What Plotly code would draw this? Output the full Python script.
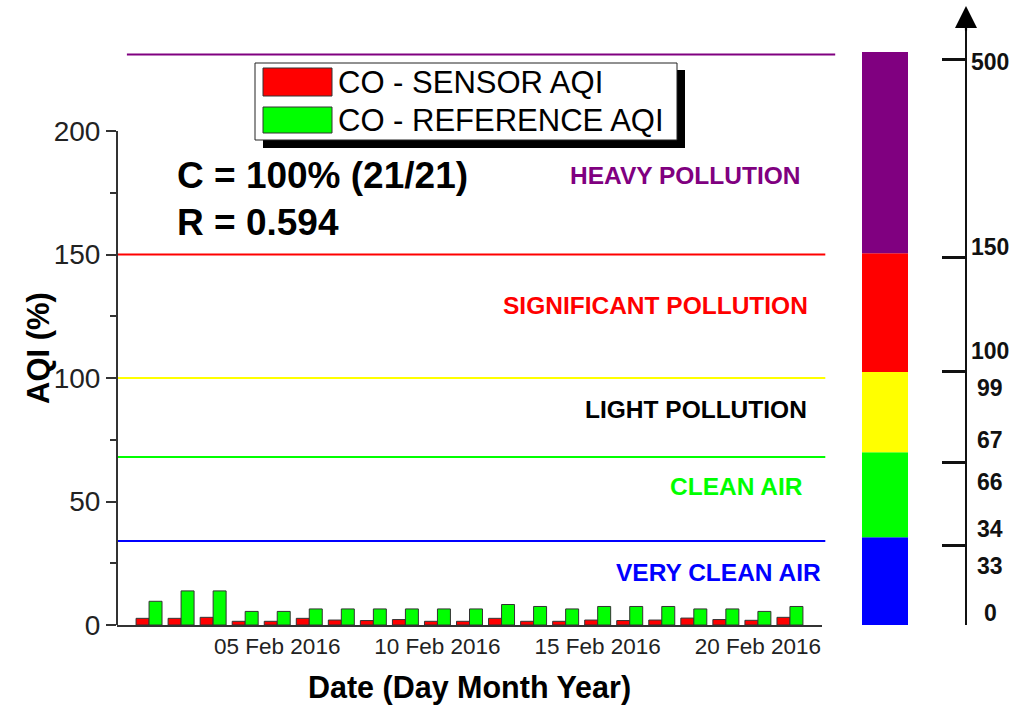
import plotly.graph_objects as go

# Daily CO air-quality index, 1-21 Feb 2016
dates = ["2016-02-01", "2016-02-02", "2016-02-03", "2016-02-04", "2016-02-05",
         "2016-02-06", "2016-02-07", "2016-02-08", "2016-02-09", "2016-02-10",
         "2016-02-11", "2016-02-12", "2016-02-13", "2016-02-14", "2016-02-15",
         "2016-02-16", "2016-02-17", "2016-02-18", "2016-02-19", "2016-02-20",
         "2016-02-21"]
sensor_aqi = [2.7, 2.7, 3.1, 1.5, 1.5, 2.7, 2.0, 1.8, 2.2, 1.5, 1.5,
              2.7, 1.5, 1.5, 2.0, 1.8, 2.0, 2.8, 2.2, 1.9, 3.1]
reference_aqi = [9.6, 13.8, 13.8, 5.5, 5.5, 6.5, 6.5, 6.5, 6.5, 6.5, 6.5,
                 8.3, 7.5, 6.5, 7.5, 7.5, 7.5, 6.5, 6.5, 5.5, 7.5]

x_ticks = ["2016-02-05", "2016-02-10", "2016-02-15", "2016-02-20"]
y_ticks = [0, 50, 100, 150, 200]
y_minor = [25, 75, 125, 175]

# Pollution class thresholds drawn as horizontal lines
threshold_values = [34, 68, 100, 150, 231]
threshold_colors = ["#0000ff", "#00ff00", "#ffff00", "#ff0000", "#800080"]

# Class names written inside the bands
class_names = ["VERY CLEAN AIR", "CLEAN AIR", "LIGHT POLLUTION",
               "SIGNIFICANT POLLUTION", "HEAVY POLLUTION"]
class_colors = ["#0000ff", "#00ff00", "#000000", "#ff0000", "#800080"]
class_label_y = [21.1, 55.9, 87.1, 129.4, 182.0]
class_label_x = [0.668, 0.688, 0.643, 0.598, 0.632]

# Colour scale on the right: band bottoms and tops
band_bottoms = [0, 35.5, 70, 102.5, 150.5]
band_tops = [35.5, 70, 102.5, 150.5, 232]
band_colors = ["#0000ff", "#00ff00", "#ffff00", "#ff0000", "#800080"]

# Index scale beside the colour bar
scale_ticks = [0, 32, 66, 102.5, 149, 229]
scale_labels = ["0", "33", "34", "66", "67", "99", "100", "150", "500"]
scale_label_y = [5, 24, 39, 58, 75, 96, 111, 153, 228]

FONT = "Liberation Sans, Arial, sans-serif"
Y_MAX = 245

fig = go.Figure()

fig.add_trace(go.Bar(
    x=dates, y=sensor_aqi, name="CO - SENSOR AQI",
    marker=dict(color="#ff0000", line=dict(color="#333333", width=1)),
    showlegend=False,
))
fig.add_trace(go.Bar(
    x=dates, y=reference_aqi, name="CO - REFERENCE AQI",
    marker=dict(color="#00ff00", line=dict(color="#333333", width=1)),
    showlegend=False,
))

# Colour bar as stacked blocks on its own x axis
fig.add_trace(go.Bar(
    x=[0.5] * len(band_bottoms),
    y=[t - b for t, b in zip(band_tops, band_bottoms)],
    base=band_bottoms,
    width=1,
    marker=dict(color=band_colors, line=dict(width=0)),
    xaxis="x2", yaxis="y",
    showlegend=False, hoverinfo="skip",
))

# Empty trace so the right-hand scale axis is drawn
fig.add_trace(go.Scatter(x=[None], y=[None], xaxis="x", yaxis="y3",
                         showlegend=False, hoverinfo="skip"))

shapes = []
for val, col in zip(threshold_values, threshold_colors):
    x0, x1 = (0.011, 0.798) if val > 200 else (0.0, 0.787)
    shapes.append(dict(type="line", xref="paper", yref="y",
                       x0=x0, x1=x1, y0=val, y1=val,
                       line=dict(color=col, width=2), layer="below"))

# Left axis line only up to the last labelled tick
shapes.append(dict(type="line", xref="paper", yref="y", x0=0, x1=0,
                   y0=0, y1=200, line=dict(color="#333333", width=2)))


def px_x(p):
    return (p - 117) / 900


def px_y(p):
    return (625 - p) / 605


# Legend box with drop shadow and swatches
shapes.append(dict(type="rect", xref="paper", yref="paper",
                   x0=px_x(263), x1=px_x(685), y0=px_y(148), y1=px_y(70),
                   fillcolor="#000000", line=dict(width=0)))
shapes.append(dict(type="rect", xref="paper", yref="paper",
                   x0=px_x(255), x1=px_x(677), y0=px_y(140), y1=px_y(63),
                   fillcolor="#ffffff", line=dict(color="#222222", width=1)))
shapes.append(dict(type="rect", xref="paper", yref="paper",
                   x0=px_x(263), x1=px_x(332), y0=px_y(96), y1=px_y(68),
                   fillcolor="#ff0000", line=dict(color="#333333", width=1)))
shapes.append(dict(type="rect", xref="paper", yref="paper",
                   x0=px_x(263), x1=px_x(332), y0=px_y(133), y1=px_y(107),
                   fillcolor="#00ff00", line=dict(color="#333333", width=1)))

annotations = []
annotations.append(dict(xref="paper", yref="paper", x=px_x(336), y=px_y(82),
                        text="CO - SENSOR AQI", showarrow=False,
                        xanchor="left", yanchor="middle",
                        font=dict(family=FONT, size=31, color="#000000")))
annotations.append(dict(xref="paper", yref="paper", x=px_x(336), y=px_y(120),
                        text="CO - REFERENCE AQI", showarrow=False,
                        xanchor="left", yanchor="middle",
                        font=dict(family=FONT, size=31, color="#000000")))

annotations.append(dict(xref="paper", yref="paper", x=px_x(175), y=px_y(175),
                        text="<b>C = 100% (21/21)</b>", showarrow=False,
                        xanchor="left", yanchor="middle",
                        font=dict(family=FONT, size=37, color="#000000")))
annotations.append(dict(xref="paper", yref="paper", x=px_x(175), y=px_y(223),
                        text="<b>R = 0.594</b>", showarrow=False,
                        xanchor="left", yanchor="middle",
                        font=dict(family=FONT, size=37, color="#000000")))

for name, col, yv, xv in zip(class_names, class_colors, class_label_y, class_label_x):
    annotations.append(dict(xref="paper", yref="y", x=xv, y=yv,
                            text=f"<b>{name}</b>", showarrow=False,
                            xanchor="center", yanchor="middle",
                            font=dict(family=FONT, size=24.5, color=col)))

for lab, yv in zip(scale_labels, scale_label_y):
    annotations.append(dict(xref="paper", yref="y", x=px_x(990), y=yv,
                            text=f"<b>{lab}</b>", showarrow=False,
                            xanchor="center", yanchor="middle",
                            font=dict(family=FONT, size=23, color="#111111")))

# Y axis title
annotations.append(dict(xref="paper", yref="paper", x=px_x(38), y=px_y(348),
                        text="<b>AQI (%)</b>", showarrow=False, textangle=-90,
                        xanchor="center", yanchor="middle",
                        font=dict(family=FONT, size=31, color="#000000")))

# Arrow head on top of the scale axis
annotations.append(dict(xref="paper", yref="paper", x=px_x(966), y=px_y(6),
                        ax=0, ay=26, text="", showarrow=True,
                        arrowhead=2, arrowsize=2, arrowwidth=2.2,
                        arrowcolor="#000000"))

fig.update_layout(
    width=1027, height=705,
    margin=dict(l=117, r=10, t=20, b=80, autoexpand=False),
    paper_bgcolor="#ffffff", plot_bgcolor="#ffffff",
    barmode="group", bargap=0.19, bargroupgap=0,
    font=dict(family=FONT, color="#000000"),
    shapes=shapes, annotations=annotations,
    xaxis=dict(
        domain=[0, 705 / 900],
        type="date",
        range=["2016-01-31", "2016-02-22"],
        tickvals=x_ticks, tickformat="%d %b %Y",
        ticks="", showgrid=False, zeroline=False,
        showline=True, linecolor="#333333", linewidth=2,
        tickfont=dict(family=FONT, size=22.5, color="#222222"),
        title=dict(text="<b>Date (Day Month Year)</b>",
                   font=dict(family=FONT, size=30.5, color="#000000"),
                   standoff=20),
    ),
    xaxis2=dict(
        domain=[px_x(862), px_x(908)], range=[0, 1],
        anchor="y", visible=False, fixedrange=True,
    ),
    yaxis=dict(
        range=[0, Y_MAX],
        tickvals=y_ticks, ticks="outside", ticklen=10, tickwidth=2,
        tickcolor="#333333",
        minor=dict(tickvals=y_minor, ticks="outside", ticklen=6,
                   tickwidth=2, tickcolor="#333333", showgrid=False),
        showgrid=False, zeroline=False, showline=False,
        tickfont=dict(family=FONT, size=28, color="#222222"),
    ),
    yaxis3=dict(
        overlaying="y", anchor="free", position=px_x(966), side="right",
        range=[0, Y_MAX], tickvals=scale_ticks, ticks="inside",
        ticklen=23, tickwidth=3, tickcolor="#111111",
        showticklabels=False, showgrid=False, zeroline=False,
        showline=True, linecolor="#111111", linewidth=2,
    ),
)

fig.write_html("out.html")
